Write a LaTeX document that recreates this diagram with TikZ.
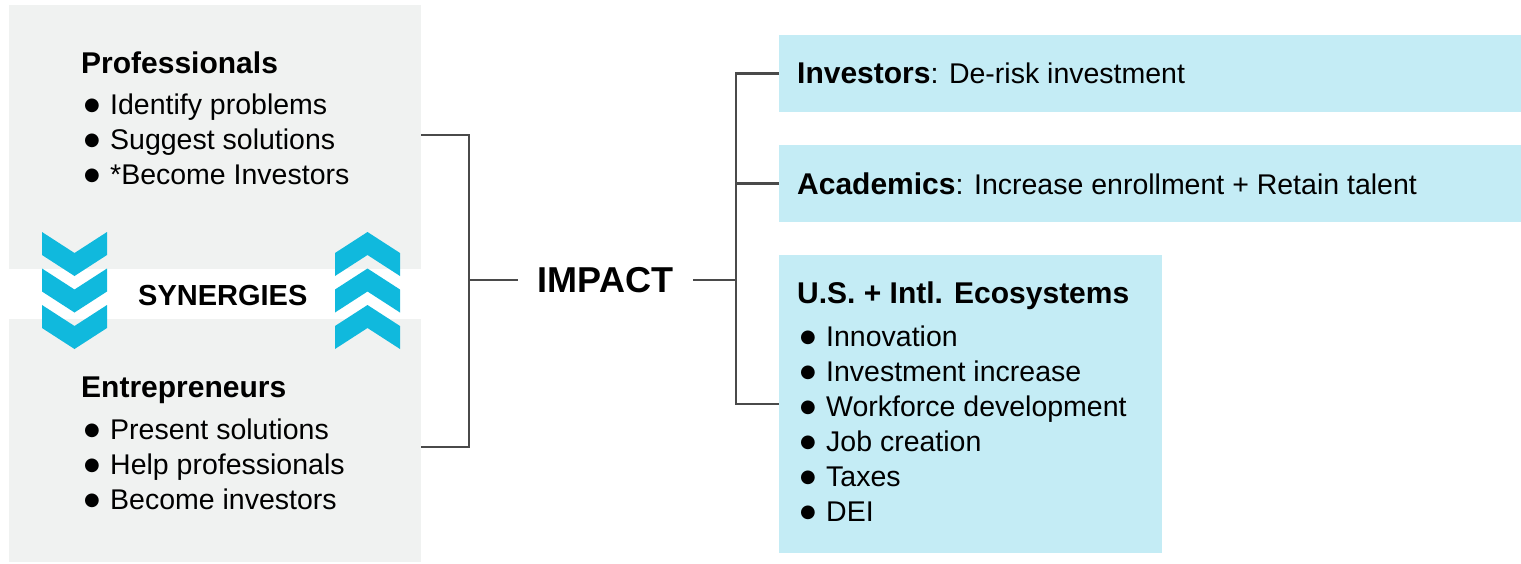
\documentclass[tikz,border=0pt]{standalone}
\usepackage{fontspec}
\setmainfont{Liberation Sans}
\newfontfamily\symfont{DejaVu Sans}
\usetikzlibrary{positioning}
\definecolor{panelgray}{HTML}{F0F2F1}
\definecolor{impactblue}{HTML}{C4ECF5}
\definecolor{chevblue}{HTML}{10B9DD}
\definecolor{linkgray}{HTML}{4A4A4A}
\newcommand{\headfont}{\fontsize{30}{36}\selectfont\bfseries}
\newcommand{\itemfont}{\fontsize{28.5}{35}\selectfont}
\newcommand{\hd}[1]{{\headfont #1}}
\newcommand{\bul}{\makebox[26pt][l]{\raisebox{4pt}{\symfont\fontsize{18}{18}\selectfont ●}}}
\begin{document}
\begin{tikzpicture}[x=1pt, y=-1pt,
  panel/.style={fill=panelgray, inner sep=0pt, outer sep=0pt, anchor=north west},
  impactbox/.style={fill=impactblue, inner sep=0pt, outer sep=0pt, anchor=north west},
  headtext/.style={anchor=base west, inner sep=0pt, font=\headfont},
  itemtext/.style={anchor=base west, inner sep=0pt, font=\itemfont},
  chevron/.style={fill=chevblue},
  link/.style={draw=linkgray, line width=2.5pt}]
\useasboundingbox (0,0) rectangle (1521,563);
% left panels
\node[panel, minimum width=412pt, minimum height=264pt] (profpanel) at (9,5) {};
\node[panel, minimum width=412pt, minimum height=243pt] (entrpanel) at (9,319) {};
\node[headtext] (prof) at (81,73) {Professionals};
\foreach \txt [count=\i] in {Identify problems, Suggest solutions, *Become Investors}
  \node[itemtext] (prof\i) at (84,{79+35.3*\i}) {\bul\txt};
\node[headtext] (entr) at (81,397) {Entrepreneurs};
\foreach \txt [count=\i] in {Present solutions, Help professionals, Become investors}
  \node[itemtext] (entr\i) at (84,{404+35*\i}) {\bul\txt};
% synergies
\node[headtext, font=\fontsize{29}{34}\selectfont\bfseries] (syn) at (138,305) {SYNERGIES};
\foreach \t in {232,268.5,305} {
  \fill[chevron] (42,\t) -- (74.5,\t+21) -- (107,\t) -- (107,\t+23) -- (74.5,\t+44) -- (42,\t+23) -- cycle;
  \fill[chevron] (335,\t+21) -- (367.5,\t) -- (400,\t+21) -- (400,\t+44) -- (367.5,\t+23) -- (335,\t+44) -- cycle;
}
% impact
\node[inner xsep=20pt, font=\fontsize{36}{40}\selectfont\bfseries] (impact) at (605.5,280) {IMPACT};
\coordinate (jl) at (469,280);
\coordinate (jr) at (736,280);
% right boxes
\node[impactbox, minimum width=742pt, minimum height=77pt] (inv) at (779,35) {};
\node[impactbox, minimum width=742pt, minimum height=77pt] (acad) at (779,145) {};
\node[impactbox, minimum width=383pt, minimum height=298pt] (eco) at (779,255) {};
\node[itemtext] (invtext) at (797,83.5) {\hd{Investors}: De-risk investment};
\node[itemtext] (acadtext) at (797,194.5) {\hd{Academics}: Increase enrollment + Retain talent};
\node[headtext] (ecotext) at (797,303) {U.S. + Intl. Ecosystems};
\foreach \txt [count=\i] in {Innovation, Investment increase, Workforce development, Job creation, Taxes, DEI}
  \node[itemtext] (eco\i) at (800,{311+35*\i}) {\bul\txt};
% connectors
\draw[link] ([yshift=2pt]profpanel.east) -| (jl) |- ([yshift=-6.5pt]entrpanel.east);
\draw[link] (jl) -- (impact.west);
\draw[link] (impact.east) -- (jr);
\draw[link] (inv.west) -| (jr) |- (eco.west);
\draw[link] (acad.west) -- (acad.west -| jr);
\end{tikzpicture}
\end{document}
